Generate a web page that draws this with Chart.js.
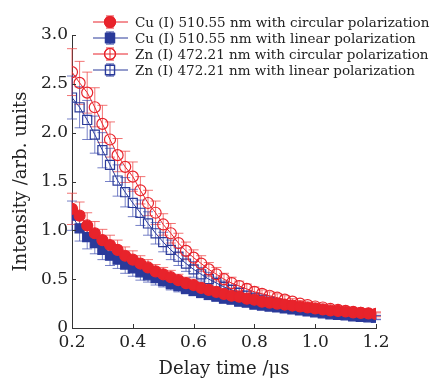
<!DOCTYPE html>
<html>
<head>
<meta charset="utf-8">
<script src="https://cdn.jsdelivr.net/npm/chart.js@4.4.0/dist/chart.umd.min.js"></script>
<style>
  html, body { margin: 0; padding: 0; background: #fff; }
  #wrap { width: 432px; height: 378px; }
</style>
</head>
<body>
<div id="wrap"><canvas id="chart" width="432" height="378"></canvas></div>
<script>
// delay time (us)
const delayTimes = [0.2, 0.225, 0.25, 0.275, 0.3, 0.325, 0.35, 0.375, 0.4, 0.425,
  0.45, 0.475, 0.5, 0.525, 0.55, 0.575, 0.6, 0.625, 0.65, 0.675,
  0.7, 0.725, 0.75, 0.775, 0.8, 0.825, 0.85, 0.875, 0.9, 0.925,
  0.95, 0.975, 1.0, 1.025, 1.05, 1.075, 1.1, 1.125, 1.15, 1.175, 1.2];

const cuCircular = [1.22, 1.15, 1.05, 0.97, 0.90, 0.85, 0.80, 0.74, 0.70, 0.66,
  0.62, 0.58, 0.55, 0.52, 0.49, 0.46, 0.44, 0.41, 0.39, 0.37,
  0.35, 0.33, 0.32, 0.30, 0.29, 0.27, 0.26, 0.25, 0.24, 0.23,
  0.22, 0.21, 0.20, 0.19, 0.18, 0.175, 0.17, 0.16, 0.155, 0.15, 0.145];
const cuCircularErr = [0.16, 0.14, 0.13, 0.12, 0.11, 0.10, 0.10, 0.09, 0.09, 0.08,
  0.08, 0.07, 0.07, 0.07, 0.06, 0.06, 0.06, 0.05, 0.05, 0.05,
  0.05, 0.04, 0.04, 0.04, 0.04, 0.04, 0.03, 0.03, 0.03, 0.03,
  0.03, 0.03, 0.03, 0.02, 0.02, 0.02, 0.02, 0.02, 0.02, 0.02, 0.02];

const cuLinear = [1.15, 1.02, 0.93, 0.87, 0.80, 0.74, 0.70, 0.65, 0.61, 0.57,
  0.54, 0.51, 0.48, 0.45, 0.43, 0.40, 0.38, 0.36, 0.34, 0.32,
  0.30, 0.29, 0.27, 0.26, 0.24, 0.23, 0.22, 0.21, 0.20, 0.19,
  0.18, 0.17, 0.16, 0.15, 0.14, 0.135, 0.13, 0.12, 0.115, 0.11, 0.105];
const cuLinearErr = [0.15, 0.13, 0.12, 0.11, 0.10, 0.10, 0.09, 0.09, 0.08, 0.08,
  0.07, 0.07, 0.06, 0.06, 0.06, 0.05, 0.05, 0.05, 0.05, 0.04,
  0.04, 0.04, 0.04, 0.04, 0.03, 0.03, 0.03, 0.03, 0.03, 0.03,
  0.03, 0.02, 0.02, 0.02, 0.02, 0.02, 0.02, 0.02, 0.02, 0.02, 0.02];

const znCircular = [2.62, 2.51, 2.41, 2.26, 2.09, 1.93, 1.77, 1.65, 1.55, 1.41,
  1.28, 1.18, 1.06, 0.97, 0.87, 0.79, 0.72, 0.66, 0.60, 0.55,
  0.50, 0.46, 0.43, 0.40, 0.37, 0.35, 0.33, 0.31, 0.29, 0.27,
  0.25, 0.235, 0.22, 0.21, 0.195, 0.185, 0.175, 0.165, 0.155, 0.145, 0.135];
const znCircularErr = [0.24, 0.22, 0.21, 0.20, 0.19, 0.18, 0.17, 0.16, 0.15, 0.14,
  0.13, 0.12, 0.11, 0.10, 0.10, 0.09, 0.08, 0.08, 0.07, 0.07,
  0.06, 0.06, 0.05, 0.05, 0.05, 0.04, 0.04, 0.04, 0.04, 0.03,
  0.03, 0.03, 0.03, 0.03, 0.02, 0.02, 0.02, 0.02, 0.02, 0.02, 0.02];

const znLinear = [2.36, 2.26, 2.13, 1.98, 1.82, 1.67, 1.51, 1.39, 1.28, 1.18,
  1.07, 0.97, 0.88, 0.80, 0.73, 0.66, 0.60, 0.55, 0.50, 0.46,
  0.42, 0.39, 0.36, 0.33, 0.31, 0.29, 0.27, 0.25, 0.235, 0.22,
  0.205, 0.19, 0.18, 0.17, 0.16, 0.15, 0.14, 0.13, 0.125, 0.12, 0.11];
const znLinearErr = [0.22, 0.21, 0.20, 0.19, 0.18, 0.17, 0.16, 0.15, 0.14, 0.13,
  0.12, 0.11, 0.10, 0.10, 0.09, 0.08, 0.08, 0.07, 0.07, 0.06,
  0.06, 0.05, 0.05, 0.05, 0.04, 0.04, 0.04, 0.04, 0.03, 0.03,
  0.03, 0.03, 0.03, 0.02, 0.02, 0.02, 0.02, 0.02, 0.02, 0.02, 0.02];

const seriesLabels = [
  "Cu (I) 510.55 nm with circular polarization",
  "Cu (I) 510.55 nm with linear polarization",
  "Zn (I) 472.21 nm with circular polarization",
  "Zn (I) 472.21 nm with linear polarization"
];

const RED = "#e8232b";
const BLUE = "#2a3a9a";
const RED_ERR = "rgba(238,70,70,0.75)";
const BLUE_ERR = "rgba(60,75,175,0.7)";

function pts(ys) {
  return delayTimes.map((x, i) => ({ x: x, y: ys[i] }));
}

const series = [
  { values: cuCircular, errs: cuCircularErr, color: RED, errColor: RED_ERR, style: "circle", filled: true, r: 5.5 },
  { values: cuLinear, errs: cuLinearErr, color: BLUE, errColor: BLUE_ERR, style: "rect", filled: true, r: 6.4 },
  { values: znCircular, errs: znCircularErr, color: RED, errColor: RED_ERR, style: "circle", filled: false, r: 5.5 },
  { values: znLinear, errs: znLinearErr, color: BLUE, errColor: BLUE_ERR, style: "rect", filled: false, r: 6.4 }
];

// error bars drawn under the markers, from the chart's own scales
const errorBars = {
  id: "errorBars",
  beforeDatasetsDraw(chart) {
    const ctx = chart.ctx;
    const xs = chart.scales.x, ys = chart.scales.y;
    ctx.save();
    ctx.lineWidth = 1;
    series.forEach((s) => {
      ctx.strokeStyle = s.errColor;
      s.values.forEach((v, i) => {
        const px = xs.getPixelForValue(delayTimes[i]);
        const top = ys.getPixelForValue(v + s.errs[i]);
        const bot = ys.getPixelForValue(v - s.errs[i]);
        ctx.beginPath();
        ctx.moveTo(px, top); ctx.lineTo(px, bot);
        ctx.moveTo(px - 5, top); ctx.lineTo(px + 5, top);
        ctx.moveTo(px - 5, bot); ctx.lineTo(px + 5, bot);
        ctx.stroke();
      });
    });
    ctx.restore();
  }
};

// inward tick marks + custom legend
const decor = {
  id: "decor",
  afterDraw(chart) {
    const ctx = chart.ctx;
    const xs = chart.scales.x, ys = chart.scales.y;
    const area = chart.chartArea;
    ctx.save();
    ctx.strokeStyle = "#333";
    ctx.lineWidth = 1;
    ctx.beginPath();
    xs.ticks.forEach((t) => {
      const px = Math.round(xs.getPixelForValue(t.value)) + 0.5;
      ctx.moveTo(px, area.bottom); ctx.lineTo(px, area.bottom - 4);
    });
    ys.ticks.forEach((t) => {
      const py = Math.round(ys.getPixelForValue(t.value)) + 0.5;
      ctx.moveTo(area.left, py); ctx.lineTo(area.left + 4, py);
    });
    ctx.stroke();

    // legend
    const lx0 = 93, lx1 = 128, mx = 110, tx = 135;
    ctx.font = "13.5px 'DejaVu Serif'";
    ctx.textBaseline = "middle";
    series.forEach((s, i) => {
      const y = 22 + i * 16;
      ctx.strokeStyle = s.color;
      ctx.lineWidth = 1;
      ctx.beginPath();
      ctx.moveTo(lx0, y); ctx.lineTo(lx1, y);
      ctx.moveTo(mx, y - 6); ctx.lineTo(mx, y + 6);
      ctx.moveTo(mx - 4, y - 6); ctx.lineTo(mx + 4, y - 6);
      ctx.moveTo(mx - 4, y + 6); ctx.lineTo(mx + 4, y + 6);
      ctx.stroke();
      ctx.fillStyle = s.filled ? s.color : "rgba(255,255,255,0)";
      ctx.lineWidth = 1.2;
      Chart.helpers.drawPoint(ctx, { pointStyle: s.style, radius: s.r, borderWidth: 1.2 }, mx, y);
      if (s.filled) ctx.fill();
      ctx.stroke();
      ctx.fillStyle = "#222";
      ctx.fillText(seriesLabels[i], tx, y + 1);
    });
    ctx.restore();
  }
};

const datasets = series.map((s, i) => ({
  label: seriesLabels[i],
  data: pts(s.values),
  borderColor: s.color,
  backgroundColor: s.filled ? s.color : "rgba(255,255,255,0)",
  borderWidth: 1,
  pointStyle: s.style,
  pointRadius: s.r,
  pointBorderWidth: 1.2,
  pointBorderColor: s.color,
  pointBackgroundColor: s.filled ? s.color : "rgba(255,255,255,0)",
  showLine: true,
  tension: 0,
  fill: false
}));

const tickFont = { family: "'DejaVu Serif'", size: 17 };
const titleFont = { family: "'DejaVu Serif'", size: 18 };

new Chart(document.getElementById("chart").getContext("2d"), {
  type: "scatter",
  data: { datasets: datasets },
  options: {
    responsive: false,
    animation: false,
    layout: { padding: { top: 35, right: 56, left: 0, bottom: 0 } },
    plugins: {
      legend: { display: false },
      tooltip: { enabled: false }
    },
    scales: {
      x: {
        type: "linear",
        min: 0.2,
        max: 1.2,
        afterFit: (scale) => { scale.height = 50; },
        grid: { drawOnChartArea: false, drawTicks: false },
        border: { display: true, color: "#333", width: 1 },
        ticks: {
          stepSize: 0.2,
          padding: 4,
          color: "#222",
          font: tickFont,
          callback: (v) => Number(v).toFixed(1)
        },
        title: {
          display: true,
          text: "Delay time /\u03bcs",
          color: "#222",
          font: titleFont,
          padding: { top: 0, bottom: -2 }
        }
      },
      y: {
        min: 0,
        max: 3,
        afterFit: (scale) => { scale.width = 72; },
        grid: { drawOnChartArea: false, drawTicks: false },
        border: { display: true, color: "#333", width: 1 },
        ticks: {
          stepSize: 0.5,
          padding: 4,
          color: "#222",
          font: tickFont,
          callback: (v) => (v === 0 ? "0" : Number(v).toFixed(1))
        },
        title: {
          display: true,
          text: "Intensity /arb. units",
          color: "#222",
          font: titleFont,
          padding: { top: 11, bottom: 0 }
        }
      }
    }
  },
  plugins: [errorBars, decor]
});
</script>
</body>
</html>
